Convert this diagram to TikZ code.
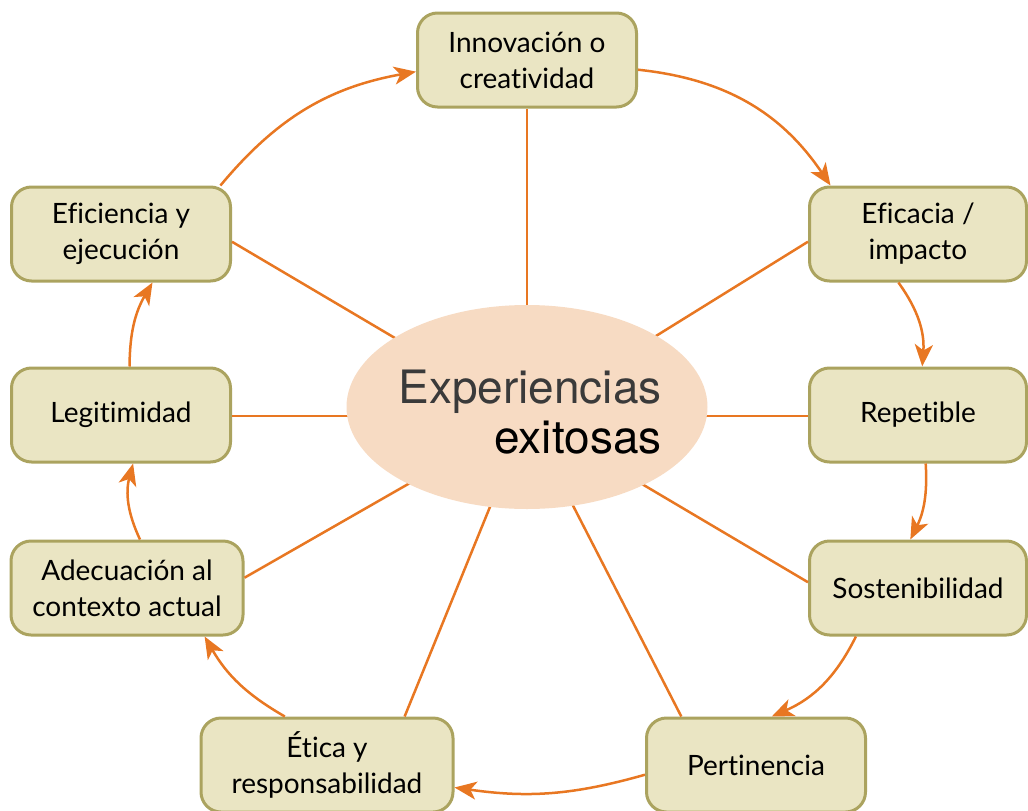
\documentclass[tikz,border=0pt]{standalone}
\usepackage{fontspec}
\setmainfont{Lato}[Ligatures=NoCommon]
\newfontfamily\heros{TeX Gyre Heros}
\usetikzlibrary{shapes.geometric,arrows.meta}
\definecolor{boxfill}{HTML}{EAE5C3}
\definecolor{boxline}{HTML}{ABA35F}
\definecolor{orng}{HTML}{E87722}
\definecolor{ellfill}{HTML}{F7DBC3}
\definecolor{thingray}{HTML}{3A3A3A}
\tikzset{
  cbox/.style={draw=boxline, fill=boxfill, line width=3pt, rounded corners=20pt,
    minimum width=219pt, minimum height=94pt, align=center, inner sep=0pt,
    font=\fontsize{28}{36}\selectfont},
  spoke/.style={draw=orng, line width=2.5pt},
  flow/.style={draw=orng, line width=2.5pt, -{Stealth[length=22pt,width=18pt,inset=6pt]}}
}
\begin{document}
\begin{tikzpicture}[x=1pt,y=-1pt]
\useasboundingbox (0,0) rectangle (1028,811);
\node[cbox] (inn) at (527,60) {Innovación o\\creatividad};
\node[cbox] (efi) at (121,234) {Eficiencia y\\ejecución};
\node[cbox, minimum width=217pt] (efa) at (918,234) {Eficacia /\\impacto};
\node[cbox] (leg) at (121,415) {Legitimidad};
\node[cbox, minimum width=217pt] (rep) at (918,415) {Repetible};
\node[cbox, minimum width=232pt] (ade) at (127,588) {Adecuación al\\contexto actual};
\node[cbox, minimum width=217pt] (sos) at (918,588) {Sostenibilidad};
\node[cbox, minimum width=252pt] (eti) at (327,765) {Ética y\\responsabilidad};
\node[cbox] (per) at (756,765) {Pertinencia};
\coordinate (hub) at (527,416);
% spokes
\draw[spoke] (hub) -- (inn.south);
\draw[spoke] (hub) -- (efi.-4);
\draw[spoke] (hub) -- (efa.184);
\draw[spoke] (hub) -- (leg.east |- hub);
\draw[spoke] (hub) -- (rep.west |- hub);
\draw[spoke] (hub) -- (ade.5);
\draw[spoke] (hub) -- (sos.177);
\draw[spoke] (hub) -- (eti.32);
\draw[spoke] (hub) -- (per.147);
\node[ellipse, fill=ellfill, minimum width=361pt, minimum height=204pt, inner sep=0pt] (ell) at (527,407) {};
\node[align=right, inner sep=0pt, font=\heros\fontsize{46}{50}\selectfont] (ctext) at (530,412) {\textcolor{thingray}{Experiencias}\\exitosas};
% cycle arrows
\draw[flow] (inn.-5) to[bend left=25] (efa.151);
\draw[flow] (efa.248) to[bend left=20] (rep.85);
\draw[flow] (rep.279) to[bend left=15] (sos.99);
\draw[flow] (sos.218) to[bend left=20] (per.72);
\draw[flow] (per.185) to[bend left=12] (eti.-10);
\draw[flow] (eti.131) to[bend left=15] (ade.-32);
\draw[flow] (ade.75) to[bend left=20] (leg.-76);
\draw[flow] (leg.80) to[bend left=15] (efi.-57);
\draw[flow] (efi.26) to[bend left=20] (inn.186);
\end{tikzpicture}
\end{document}
